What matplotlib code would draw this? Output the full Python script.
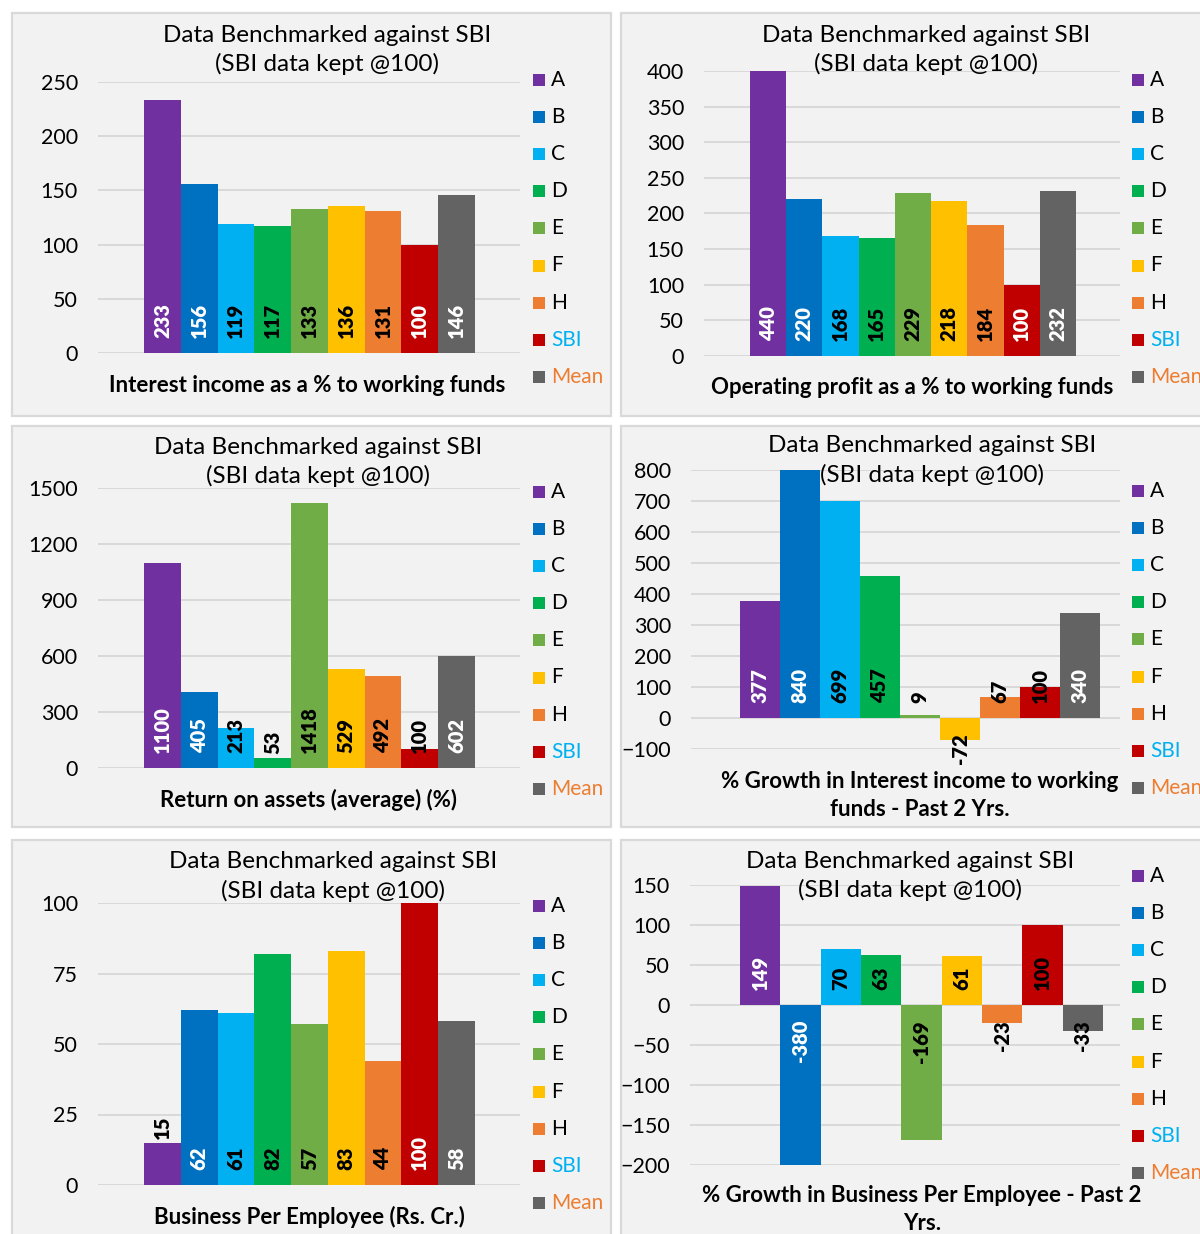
import matplotlib

matplotlib.use("Agg")
import matplotlib.pyplot as plt
from matplotlib.patches import Rectangle

# Размеры холста в пикселях
W, H = 1200, 1234
FONT = ["Lato", "DejaVu Sans"]

SERIES = ["A", "B", "C", "D", "E", "F", "H", "SBI", "Mean"]
COLORS = ["#7030a0", "#0070c0", "#00b0f0", "#00b050", "#70ad47",
          "#ffc000", "#ed7d31", "#c00000", "#636363"]
LEGEND_TEXT_COLORS = {"SBI": "#00b0f0", "Mean": "#ed7d31"}

interest_income = [233, 156, 119, 117, 133, 136, 131, 100, 146]
operating_profit = [440, 220, 168, 165, 229, 218, 184, 100, 232]
return_on_assets = [1100, 405, 213, 53, 1418, 529, 492, 100, 602]
growth_interest = [377, 840, 699, 457, 9, -72, 67, 100, 340]
business_per_emp = [15, 62, 61, 82, 57, 83, 44, 100, 58]
growth_business = [149, -380, 70, 63, -169, 61, -23, 100, -33]

TITLE_LINES = ["Data Benchmarked against SBI", "(SBI data kept @100)"]

# Компоновка: всё в пикселях исходной картинки
PANELS = [
    dict(values=interest_income, ylim=(0, 250), yticks=range(0, 251, 50),
         xlabel=["Interest income as a % to working funds"],
         box=(12, 13, 611, 416), axes=(98, 82, 520, 353), bars=(144, 475),
         title_x=327, title_y=35, xlabel_x=307, xlabel_y=385,
         legend=(533, 80), label_colors="wwkkkkkww", outside=()),
    dict(values=operating_profit, ylim=(0, 400), yticks=range(0, 401, 50),
         xlabel=["Operating profit as a % to working funds"],
         box=(621, 13, 1210, 416), axes=(704, 71, 1120, 356), bars=(750, 1076),
         title_x=926, title_y=35, xlabel_x=912, xlabel_y=388,
         legend=(1132, 80), label_colors="wwkkkkkww", outside=()),
    dict(values=return_on_assets, ylim=(0, 1500), yticks=range(0, 1501, 300),
         xlabel=["Return on assets (average) (%)"],
         box=(12, 426, 611, 827), axes=(98, 488, 520, 768), bars=(144, 475),
         title_x=318, title_y=447, xlabel_x=309, xlabel_y=800,
         legend=(533, 492), label_colors="wwkkkkkkw", outside=(3,)),
    dict(values=growth_interest, ylim=(-100, 800), yticks=range(-100, 801, 100),
         xlabel=["% Growth in Interest income to working", "funds - Past 2 Yrs."],
         box=(621, 426, 1210, 827), axes=(691, 470, 1120, 749), bars=(740, 1100),
         title_x=932, title_y=446, xlabel_x=920, xlabel_y=781,
         legend=(1132, 491), label_colors="wwkkkkkkw", outside=()),
    dict(values=business_per_emp, ylim=(0, 100), yticks=range(0, 101, 25),
         xlabel=["Business Per Employee (Rs. Cr.)"],
         box=(12, 840, 611, 1244), axes=(98, 903, 520, 1185), bars=(144, 475),
         title_x=333, title_y=862, xlabel_x=309, xlabel_y=1217,
         legend=(533, 906), label_colors="kwkkkkkww", outside=(0,)),
    dict(values=growth_business, ylim=(-200, 150), yticks=range(-200, 151, 50),
         xlabel=["% Growth in Business Per Employee - Past 2", "Yrs."],
         box=(621, 840, 1210, 1244), axes=(690, 885, 1120, 1165), bars=(740, 1103),
         title_x=910, title_y=861, xlabel_x=922, xlabel_y=1196,
         legend=(1132, 876), label_colors="wwkkkkkkk", outside=()),
]

PX = 0.72  # 1 px в пунктах при dpi=100


def fx(x):
    return x / W


def fy(y):
    return 1 - y / H


def draw_panel(fig, p):
    x0, y0, x1, y1 = p["box"]
    fig.patches.append(Rectangle((fx(x0), fy(y1)), fx(x1 - x0), (y1 - y0) / H,
                                 transform=fig.transFigure, facecolor="#f2f2f2",
                                 edgecolor="#d9d9d9", linewidth=1.6, zorder=-5))

    ax0, ay0, ax1, ay1 = p["axes"]
    ax = fig.add_axes([fx(ax0), fy(ay1), fx(ax1 - ax0), (ay1 - ay0) / H])
    ax.patch.set_alpha(0)

    b0, b1 = p["bars"]
    bw = (b1 - b0) / len(SERIES)
    x_pos = list(range(len(SERIES)))
    ax.bar(x_pos, p["values"], width=1.0, color=COLORS, linewidth=0, zorder=2)
    ax.set_xlim(-0.5 - (b0 - ax0) / bw, len(SERIES) - 0.5 + (ax1 - b1) / bw)
    ax.set_ylim(*p["ylim"])
    ax.set_yticks(list(p["yticks"]))
    ax.set_xticks([])
    ax.tick_params(axis="y", length=0, pad=20 * PX, labelsize=15.5)
    for lab in ax.get_yticklabels():
        lab.set_family(FONT)
    for s in ax.spines.values():
        s.set_visible(False)
    ax.yaxis.grid(True, color="#d9d9d9", linewidth=1.4)
    ax.set_axisbelow(True)

    # подписи значений
    for i, v in enumerate(p["values"]):
        col = "white" if p["label_colors"][i] == "w" else "black"
        if i in p["outside"]:
            xy, off, va = (i, v), 4 * PX, "bottom"
        elif v >= 0:
            xy, off, va = (i, 0), 15 * PX, "bottom"
        else:
            xy, off, va = (i, 0), -15 * PX, "top"
        ax.annotate(str(v), xy=xy, xytext=(0, off), textcoords="offset points",
                    rotation=90, ha="center", va=va, fontsize=14.5,
                    fontweight="heavy", color=col, family=FONT,
                    annotation_clip=False, zorder=3)

    # заголовок
    for k, line in enumerate(TITLE_LINES):
        fig.text(fx(p["title_x"]), fy(p["title_y"] + 29 * k), line,
                 ha="center", va="center", fontsize=17.5, family=FONT)

    # подпись оси
    for k, line in enumerate(p["xlabel"]):
        fig.text(fx(p["xlabel_x"]), fy(p["xlabel_y"] + 28 * k), line,
                 ha="center", va="center", fontsize=16, fontweight="bold",
                 family=FONT)

    # легенда
    lx, ly = p["legend"]
    for k, (name, c) in enumerate(zip(SERIES, COLORS)):
        cy = ly + 37.1 * k
        fig.patches.append(Rectangle((fx(lx), fy(cy + 6)), fx(12), 12 / H,
                                     transform=fig.transFigure, facecolor=c,
                                     linewidth=0, zorder=3))
        fig.text(fx(lx + 18), fy(cy), name, ha="left", va="center",
                 fontsize=15, family=FONT,
                 color=LEGEND_TEXT_COLORS.get(name, "black"))


def main():
    fig = plt.figure(figsize=(W / 100, H / 100), dpi=100)
    fig.patch.set_facecolor("white")
    for p in PANELS:
        draw_panel(fig, p)
    fig.savefig("out.png", dpi=100)
    plt.close(fig)


if __name__ == "__main__":
    main()
